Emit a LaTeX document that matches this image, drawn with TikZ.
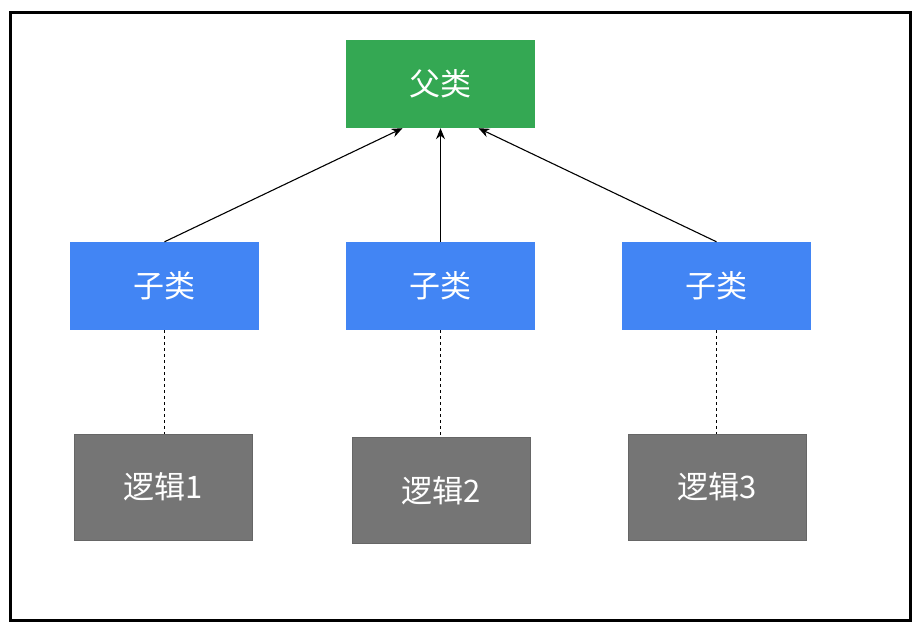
\documentclass[tikz,border=0pt]{standalone}
\usepackage{fontspec}
\setmainfont{Noto Sans CJK SC}
\usepackage{tikz}
\usetikzlibrary{arrows.meta, positioning}
\usepackage{xcolor}
\definecolor{parentGreen}{HTML}{34A853}
\definecolor{childBlue}{HTML}{4285F4}
\definecolor{logicGray}{HTML}{757575}

\begin{document}
\begin{tikzpicture}[
    x=1pt, y=-1pt,
    font=\fontsize{31}{34}\selectfont\addfontfeatures{Weight=Light},
    >={Stealth[length=11pt, width=9pt]},
    box/.style={align=center, text=white, inner sep=0pt},
    parentBox/.style={box, fill=parentGreen, minimum width=189pt, minimum height=88pt},
    childBox/.style={box, fill=childBlue, minimum width=189pt, minimum height=88pt},
    logicBox/.style={box, fill=logicGray, draw=black!60, line width=0.6pt, minimum width=178pt, minimum height=106pt},
    line/.style={->, line width=1.1pt},
    link/.style={dashed, line width=0.9pt, dash pattern=on 3pt off 3pt}
]
\useasboundingbox (0,0) rectangle (919,629);

% Frame
\draw[line width=3pt] (10.5,12.5) rectangle (910.5,620.5);

% Parent
\node[parentBox] (parent) at (440.5,84) {父类};

% Children
\node[childBox] (childA) at (164.5,286) {子类};
\node[childBox] (childB) at (440.5,286) {子类};
\node[childBox] (childC) at (716.5,286) {子类};

% Logic blocks
\node[logicBox] (logicA) at (163,487) {逻辑1};
\node[logicBox] (logicB) at (441.5,490.5) {逻辑2};
\node[logicBox] (logicC) at (717.5,487) {逻辑3};

% Inheritance arrows
\coordinate (hitA) at ([xshift=-38pt]parent.south);
\coordinate (hitC) at ([xshift=38pt]parent.south);
\draw[line] (childA.north) -- (hitA);
\draw[line] (childB.north) -- (parent.south);
\draw[line] (childC.north) -- (hitC);

% Dashed links
\draw[link] (childA.south) -- (childA.south |- logicA.north);
\draw[link] (childB.south) -- (childB.south |- logicB.north);
\draw[link] (childC.south) -- (childC.south |- logicC.north);

\end{tikzpicture}
\end{document}
